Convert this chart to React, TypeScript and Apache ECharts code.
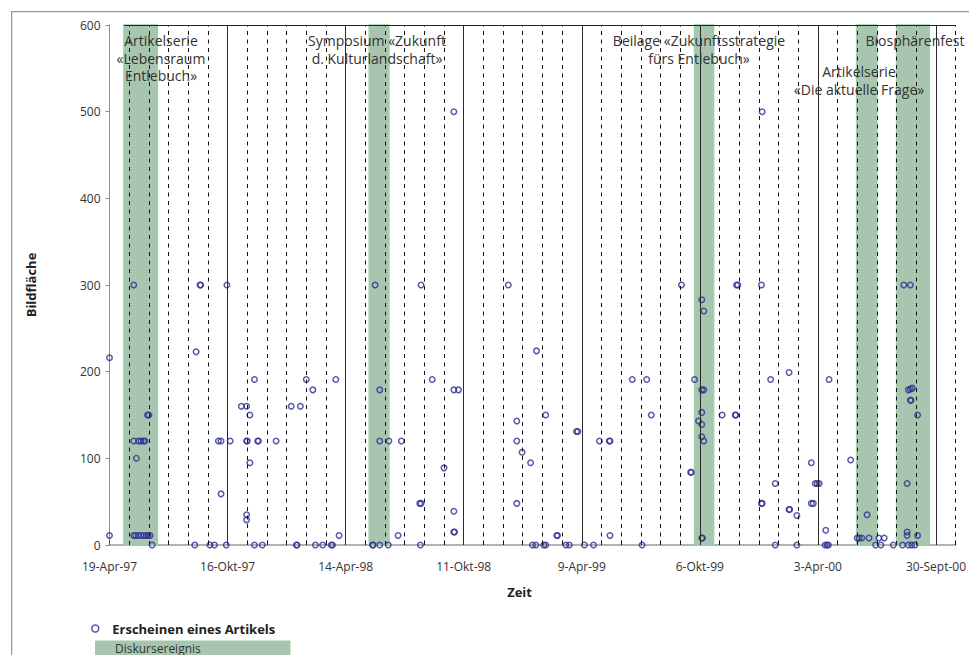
import React, { useEffect, useRef } from "react";
import * as echarts from "echarts";

// x values: days since 19-Apr-97; y values: Bildfläche
const TICK_LABELS = ["19-Apr-97", "16-Okt-97", "14-Apr-98", "11-Okt-98", "9-Apr-99", "6-Okt-99", "3-Apr-00", "30-Sept-00"];
const X_MAX = 1290;
const MINOR_STEP = 30;
const MAJOR_STEP = 180;

// Diskursereignisse: [start day, end day]
const EVENTS: [number, number][] = [
  [22, 73],
  [396, 426],
  [892, 921],
  [1139, 1170],
  [1200, 1250],
];

const ARTICLES: [number, number][] = [
  [0, 216], [0, 11],
  [37, 300], [37, 120], [41, 100], [44, 120], [48, 120], [52, 120], [54, 120],
  [37, 11], [40, 11], [44, 11], [48, 11], [52, 11], [56, 11], [59, 11], [62, 11],
  [58, 150], [60, 150], [65, 0],
  [132, 223], [138, 300], [139, 300], [130, 0], [153, 0], [160, 0],
  [166, 120], [170, 120], [170, 59], [178, 0], [179, 300], [184, 120],
  [201, 160], [209, 160], [209, 120], [210, 120], [209, 35], [209, 29], [214, 150], [214, 95],
  [221, 191], [221, 0], [226, 120], [227, 120], [233, 0], [254, 120],
  [277, 160], [285, 0], [286, 0], [291, 160], [300, 191], [310, 179], [314, 0], [325, 0], [338, 0], [340, 0], [345, 191], [350, 11],
  [405, 300], [412, 179], [412, 120], [426, 120], [445, 120], [401, 0], [402, 0], [412, 0], [425, 0], [440, 11],
  [475, 300], [473, 48], [475, 48], [474, 0], [492, 191], [510, 89], [525, 179], [532, 179], [525, 39], [525, 15], [526, 15], [525, 500],
  [608, 300], [651, 224], [621, 143], [621, 120], [629, 107], [642, 95], [621, 48], [665, 150],
  [645, 0], [650, 0], [662, 0], [665, 0], [682, 11], [683, 11], [696, 0], [701, 0], [712, 131], [714, 131],
  [724, 0], [738, 0], [747, 120], [762, 120], [763, 120], [763, 11], [797, 191], [819, 191], [826, 150], [812, 0],
  [872, 300], [892, 191], [886, 84], [887, 84], [903, 283], [906, 270], [903, 179], [906, 179], [903, 153], [898, 143], [903, 139], [903, 125], [906, 120], [903, 8], [904, 8],
  [934, 150], [954, 150], [955, 150], [956, 300], [958, 300],
  [994, 300], [995, 500], [1008, 191], [994, 48], [995, 48], [1015, 71], [1015, 0],
  [1036, 199], [1036, 41], [1037, 41], [1048, 34], [1048, 0],
  [1070, 95], [1076, 71], [1079, 71], [1082, 71], [1070, 48], [1073, 48],
  [1092, 17], [1091, 0], [1094, 0], [1096, 0], [1097, 191],
  [1130, 98], [1140, 8], [1143, 8], [1147, 8], [1158, 8], [1155, 35], [1168, 0], [1176, 0], [1173, 8], [1181, 8],
  [1195, 0], [1209, 0], [1211, 300], [1221, 300], [1218, 179], [1221, 180], [1224, 181], [1221, 167], [1222, 167], [1232, 150],
  [1216, 71], [1216, 15], [1216, 11], [1232, 11], [1218, 0], [1223, 0], [1228, 0],
];

const ANNOTATIONS: { text: string; x: number; y: number }[] = [
  { text: "Artikelserie\n«Lebensraum\nEntlebuch»", x: 161, y: 32 },
  { text: "Symposium «Zukunft\nd. Kulturlandschaft»", x: 377, y: 32 },
  { text: "Beilage «Zukunftsstrategie\nfürs Entlebuch»", x: 699, y: 32 },
  { text: "Artikelserie\n«Die aktuelle Frage»", x: 859, y: 63 },
  { text: "Biosphärenfest", x: 915, y: 32 },
];

const FONT = "'Open Sans', 'Noto Sans', sans-serif";
const DOT = "#2d3091";
const GREEN = "#a8c5b0";
const GREEN_EDGE = "#9dcfa9";

export default function App() {
  const ref = useRef<HTMLDivElement>(null);
  useEffect(() => {
    document.body.style.margin = "0";
    const el = ref.current!;
    const chart = echarts.init(el, null, { renderer: "svg" });

    const vLines: any[] = [];
    for (let d = MINOR_STEP; d <= X_MAX; d += MINOR_STEP) {
      const major = d % MAJOR_STEP === 0;
      vLines.push({
        xAxis: d,
        lineStyle: major
          ? { type: "solid", color: "#2a2a2a", width: 1 }
          : { type: [4, 4.5], color: "#111", width: 1 },
      });
    }
    vLines.push([
      { coord: [EVENTS[0][0], 600], lineStyle: { type: "solid", color: "#222", width: 1.2 } },
      { coord: [X_MAX, 600] },
    ]);

    const option: any = {
      animation: false,
      backgroundColor: "transparent",
      textStyle: { fontFamily: FONT },
      grid: { left: 109.5, right: 12.5, top: 25, bottom: 110 },
      legend: {
        left: 86,
        top: 617,
        itemWidth: 24,
        itemHeight: 7,
        selectedMode: false,
        textStyle: { fontFamily: FONT, fontSize: 13, fontWeight: "bold", color: "#222" },
        data: [
          {
            name: "Erscheinen eines Artikels",
            icon: "circle",
            itemStyle: { color: "rgba(0,0,0,0)", borderColor: DOT, borderWidth: 1.5 },
          },
        ],
      },
      xAxis: {
        type: "value",
        min: 0,
        max: X_MAX,
        interval: MINOR_STEP,
        name: "Zeit",
        nameLocation: "middle",
        nameGap: 40,
        nameTextStyle: { fontFamily: FONT, fontSize: 13, fontWeight: "bold", color: "#222", padding: [0, 26, 0, 0] },
        axisLine: { show: true, lineStyle: { color: "#9a9a9a", width: 1.5 } },
        axisTick: { show: true, inside: true, length: 5, lineStyle: { color: "#555" } },
        axisLabel: {
          fontFamily: FONT,
          fontSize: 12,
          color: "#333",
          margin: 15,
          formatter: (v: number) => (v % MAJOR_STEP === 0 ? TICK_LABELS[v / MAJOR_STEP] ?? "" : ""),
        },
        splitLine: { show: false },
      },
      yAxis: {
        type: "value",
        min: 0,
        max: 600,
        interval: 100,
        name: "Bildfläche",
        nameLocation: "middle",
        nameGap: 72,
        nameTextStyle: { fontFamily: FONT, fontSize: 13, fontWeight: "bold", color: "#222" },
        axisLine: { show: true, lineStyle: { color: "#8c8c8c", width: 1 } },
        axisTick: { show: true, inside: false, length: 4, lineStyle: { color: "#8c8c8c" } },
        axisLabel: { fontFamily: FONT, fontSize: 12, color: "#333", margin: 9 },
        splitLine: { show: false },
      },
      series: [
        {
          name: "Diskursereignis",
          type: "line",
          data: [],
          z: 1,
          silent: true,
          markArea: {
            silent: true,
            itemStyle: { color: GREEN, borderColor: GREEN_EDGE, borderWidth: 1.5 },
            data: EVENTS.map(([a, b]) => [{ xAxis: a }, { xAxis: b }]),
          },
        },
        {
          name: "Raster",
          type: "line",
          data: [],
          z: 2,
          silent: true,
          markLine: {
            silent: true,
            symbol: "none",
            label: { show: false },
            data: vLines,
          },
        },
        {
          name: "Erscheinen eines Artikels",
          type: "scatter",
          z: 3,
          symbol: "circle",
          symbolSize: 5.5,
          itemStyle: { color: "rgba(0,0,0,0)", borderColor: DOT, borderWidth: 1.5 },
          data: ARTICLES,
        },
      ],
      graphic: [
        {
          type: "rect",
          silent: true,
          z: 50,
          shape: { x: 11, y: 11, width: 958, height: 1.3 },
          style: { fill: "#9a9a9a" },
        },
        {
          type: "rect",
          silent: true,
          z: 50,
          shape: { x: 11, y: 11, width: 1.3, height: 644 },
          style: { fill: "#9a9a9a" },
        },
        ...ANNOTATIONS.map((a) => ({
          type: "text",
          silent: true,
          z: 10,
          x: a.x,
          y: a.y,
          style: {
            text: a.text,
            fontFamily: FONT,
            fontSize: 14,
            lineHeight: 17.5,
            fill: "#333",
            align: "center",
            verticalAlign: "top",
          },
        })),
        {
          type: "rect",
          silent: true,
          shape: { x: 95.5, y: 641, width: 194.5, height: 40 },
          style: { fill: GREEN, stroke: GREEN_EDGE, lineWidth: 1 },
        },
        {
          type: "text",
          silent: true,
          x: 115,
          y: 648,
          style: {
            text: "Diskursereignis",
            fontFamily: FONT,
            fontSize: 12,
            fill: "#333",
            align: "left",
            verticalAlign: "middle",
          },
        },
      ],
    };
    chart.setOption(option);
    return () => chart.dispose();
  }, []);
  return (
    <div style={{ position: "relative", width: 969, height: 655, overflow: "hidden", background: "#fff" }}>
      <div ref={ref} style={{ position: "absolute", left: 0, top: 0, width: 969, height: 655 }} />
    </div>
  );
}
